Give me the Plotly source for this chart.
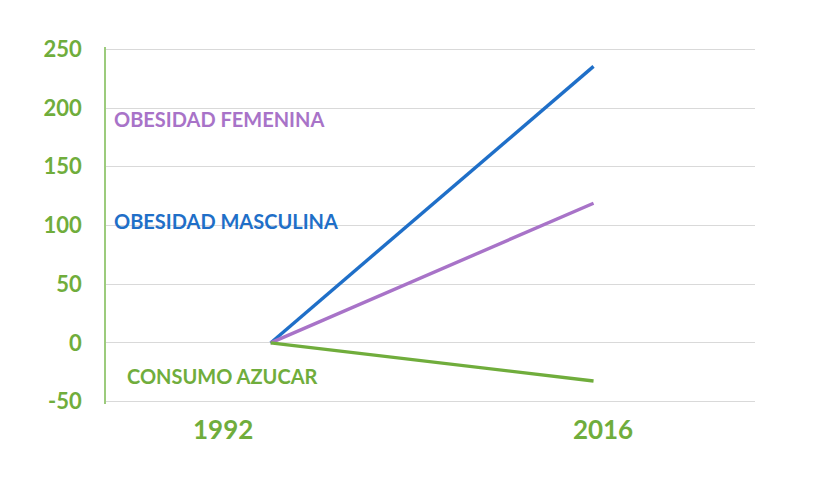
import plotly.graph_objects as go

# datos (variacion %)
years = [1995, 2015.4]
masculina = [0, 235.5]
femenina = [0, 119]
azucar = [0, -32.4]

tick_years = [1992, 2016]
tick_text = ["1992", "2016"]
y_ticks = [-50, 0, 50, 100, 150, 200, 250]
y_text = ["-50", "0", "50", "100", "150", "200", "250"]

GREEN = "#70AD3C"
BLUE = "#1F6FC8"
PURPLE = "#A873C8"

fig = go.Figure()
fig.add_trace(go.Scatter(x=years, y=masculina, mode="lines", line=dict(color=BLUE, width=3.4), name="OBESIDAD MASCULINA"))
fig.add_trace(go.Scatter(x=years, y=femenina, mode="lines", line=dict(color=PURPLE, width=3.4), name="OBESIDAD FEMENINA"))
fig.add_trace(go.Scatter(x=years, y=azucar, mode="lines", line=dict(color=GREEN, width=3.4), name="CONSUMO AZUCAR"))

labels = [("OBESIDAD FEMENINA", PURPLE, 190.5, 0.01),
          ("OBESIDAD MASCULINA", BLUE, 103.5, 0.01),
          ("CONSUMO AZUCAR", GREEN, -28.5, 0.03)]
for txt, col, yy, xx in labels:
    fig.add_annotation(text="<b>" + txt + "</b>", x=xx, xref="paper", y=yy, yref="y",
                       xanchor="left", yanchor="middle", showarrow=False,
                       font=dict(family="Lato", size=20, color=col))

# la pagina se dibuja con 8px de margen del body
fig.update_layout(
    width=836, height=490,
    margin=dict(l=98, r=89, t=39, b=94),
    plot_bgcolor="white", paper_bgcolor="white",
    showlegend=False,
)
fig.update_xaxes(range=[1984.6, 2025.6], tickvals=tick_years, ticktext=tick_text,
                 showgrid=False, zeroline=False, showline=False,
                 tickfont=dict(family="Lato", size=26, color=GREEN, weight="bold"),
                 ticklabelstandoff=8)
fig.update_yaxes(range=[-52, 252], tickvals=y_ticks, ticktext=y_text,
                 showgrid=True, gridcolor="#D9D9D9", gridwidth=1,
                 zeroline=False, showline=True, linecolor="#9CCB7C", linewidth=1.5,
                 tickfont=dict(family="Lato", size=22, color=GREEN, weight="bold"),
                 ticklabelstandoff=18)

fig.write_html("out.html")
